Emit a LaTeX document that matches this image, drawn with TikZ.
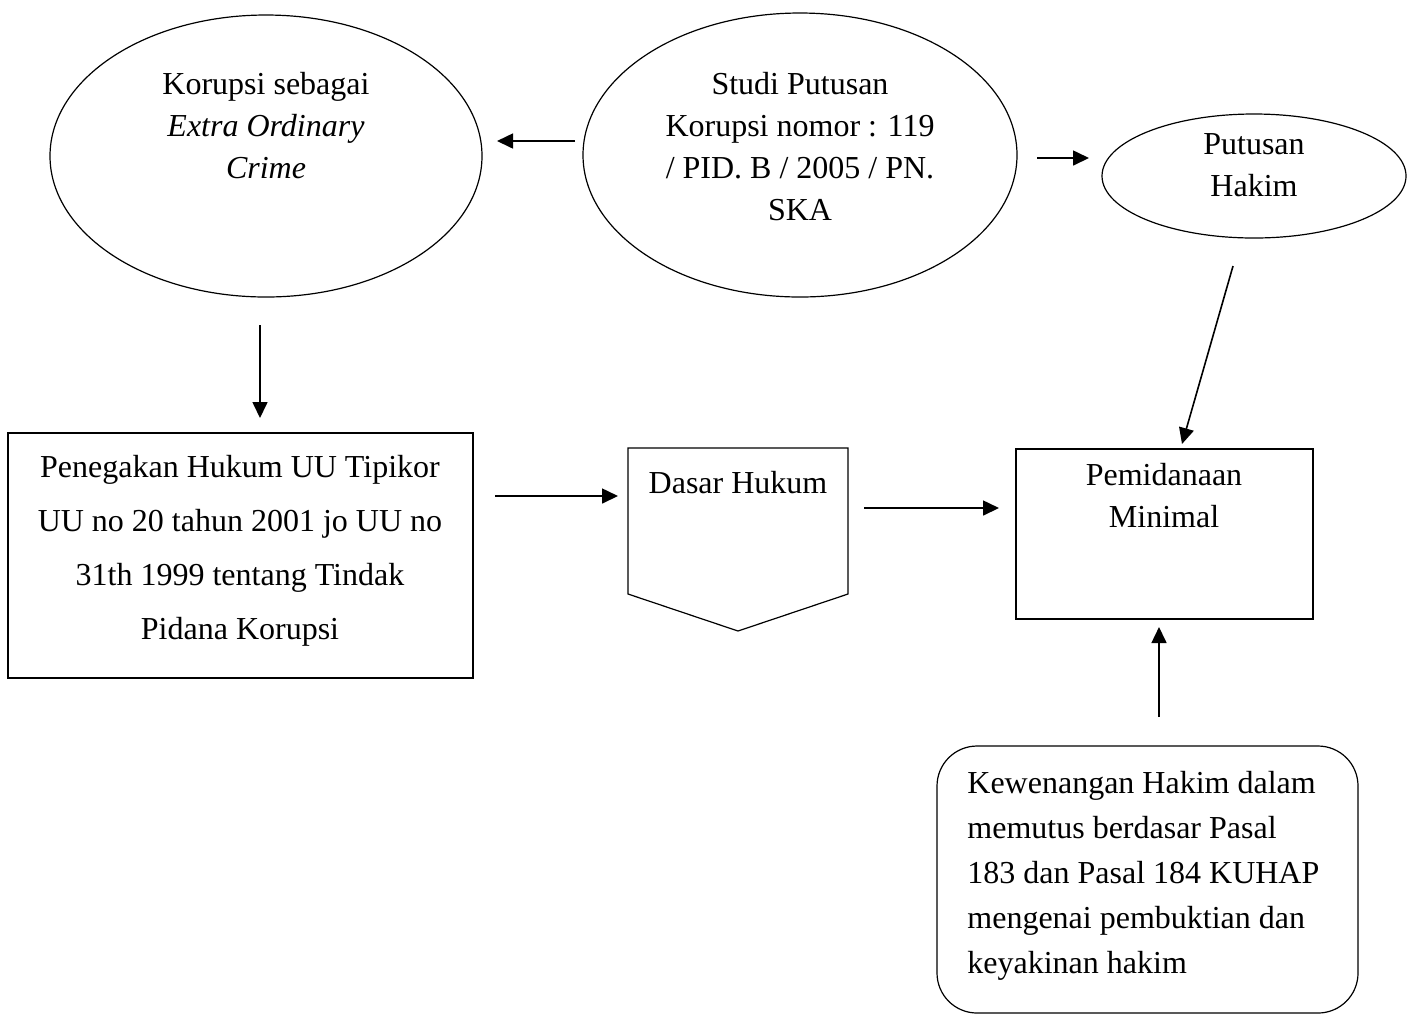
\documentclass[tikz,border=0pt]{standalone}
\usepackage{fontspec}
\setmainfont{Liberation Serif}
\usetikzlibrary{shapes.geometric,arrows.meta}
\begin{document}
\begin{tikzpicture}[x=0.5pt,y=-0.5pt,
  shapeline/.style={draw=black,line width=0.6pt},
  arr/.style={line width=0.8pt,-{Triangle[length=8pt,width=7.5pt]}},
  txt/.style={inner sep=0pt,anchor=north,align=center,font=\fontsize{16}{21}\selectfont},
  oval/.style={shapeline,ellipse,inner sep=0pt}]
\useasboundingbox (0,0) rectangle (1416,1014);
% ellipses
\node[oval,minimum width=432*0.5pt,minimum height=282*0.5pt] (korupsi) at (266,156) {};
\node[txt] (korupsiT) at (266,72) {Korupsi sebagai\\\textit{Extra Ordinary}\\\textit{Crime}};
\node[oval,minimum width=434*0.5pt,minimum height=284*0.5pt] (studi) at (800,155) {};
\node[txt] (studiT) at (800,72) {Studi Putusan\\Korupsi nomor : 119\\/ PID. B / 2005 / PN.\\SKA};
\node[oval,minimum width=304*0.5pt,minimum height=124*0.5pt] (putusan) at (1254,176) {};
\node[txt] (putusanT) at (1254,133) {Putusan\\Hakim};
% rectangles
\node[shapeline,rectangle,minimum width=465*0.5pt,minimum height=245*0.5pt,inner sep=0pt] (penegakan) at (240.5,555.5) {};
\node[txt,font=\fontsize{16}{27}\selectfont] (penegakanT) at (240,455) {Penegakan Hukum UU Tipikor\\UU no 20 tahun 2001 jo UU no\\31th 1999 tentang Tindak\\Pidana Korupsi};
\node[shapeline,rectangle,minimum width=297*0.5pt,minimum height=170*0.5pt,inner sep=0pt] (pemidanaan) at (1164.5,534) {};
\node[txt] (pemidanaanT) at (1164,463) {Pemidanaan\\Minimal};
% pentagon
\draw[shapeline] (628,448) coordinate (dA) -- (848,448) -- (848,594) -- (738,631) -- (628,594) -- cycle;
\node[txt] (dasarT) at (738,471) {Dasar Hukum};
% rounded box
\draw[shapeline,rounded corners=20pt] (937,746) rectangle (1358,1013);
\node[txt,anchor=north west,align=left,font=\fontsize{16}{22.5}\selectfont] (kewenanganT) at (967,771) {Kewenangan Hakim dalam\\memutus berdasar Pasal\\183 dan Pasal 184 KUHAP\\mengenai pembuktian dan\\keyakinan hakim};
% arrow end points
\coordinate (a1s) at (575,141); \coordinate (a1e) at (497,141);
\coordinate (a2s) at (1037,158); \coordinate (a2e) at (1089,158);
\coordinate (a3s) at (260,325); \coordinate (a3e) at (260,418);
\coordinate (a4s) at (495,496); \coordinate (a4e) at (618,496);
\coordinate (a5s) at (864,508); \coordinate (a5e) at (999,508);
\coordinate (a6s) at (1233,266); \coordinate (a6e) at (1182,444);
\coordinate (a7s) at (1159,717); \coordinate (a7e) at (1159,627);
\draw[arr] (a1s) -- (a1e);
\draw[arr] (a2s) -- (a2e);
\draw[arr] (a3s) -- (a3e);
\draw[arr] (a4s) -- (a4e);
\draw[arr] (a5s) -- (a5e);
\draw[arr] (a6s) -- (a6e);
\draw[arr] (a7s) -- (a7e);
\end{tikzpicture}
\end{document}
